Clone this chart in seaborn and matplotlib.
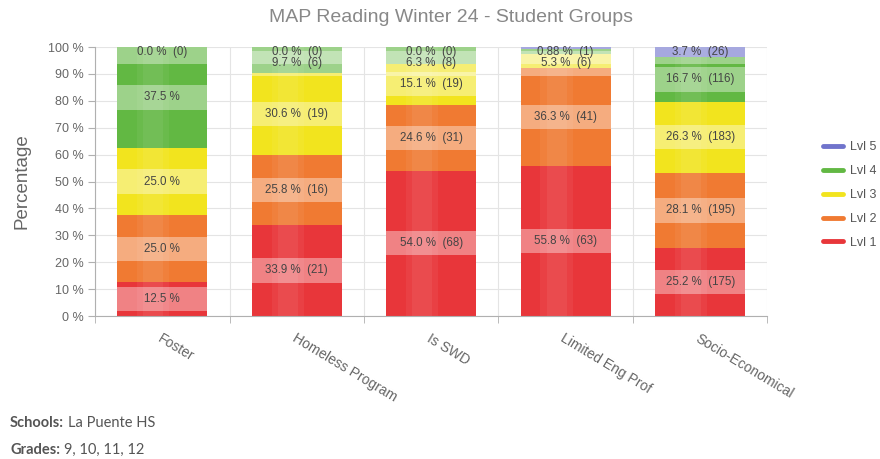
import numpy as np
import matplotlib.pyplot as plt
import seaborn as sns
from matplotlib.lines import Line2D

# Data
groups = ["Foster", "Homeless Program", "Is SWD", "Limited Eng Prof", "Socio-Economical"]
levels = ["Lvl 1", "Lvl 2", "Lvl 3", "Lvl 4", "Lvl 5"]

lvl1 = [12.5, 33.9, 54.0, 55.8, 25.2]
lvl2 = [25.0, 25.8, 24.6, 36.3, 28.1]
lvl3 = [25.0, 30.6, 15.1, 5.3, 26.3]
lvl4 = [37.5, 9.7, 6.3, 1.8, 16.7]
lvl5 = [0.0, 0.0, 0.0, 0.88, 3.7]

# label text per segment ("" = not shown)
text1 = ["12.5 %", "33.9 %  (21)", "54.0 %  (68)", "55.8 %  (63)", "25.2 %  (175)"]
text2 = ["25.0 %", "25.8 %  (16)", "24.6 %  (31)", "36.3 %  (41)", "28.1 %  (195)"]
text3 = ["25.0 %", "30.6 %  (19)", "15.1 %  (19)", "5.3 %  (6)", "26.3 %  (183)"]
text4 = ["37.5 %", "9.7 %  (6)", "6.3 %  (8)", "", "16.7 %  (116)"]
text5 = ["0.0 %  (0)", "0.0 %  (0)", "0.0 %  (0)", "0.88 %  (1)", "3.7 %  (26)"]

colors = ["#e8363a", "#f07a32", "#f2e41e", "#62b843", "#7074cc"]

values = [lvl1, lvl2, lvl3, lvl4, lvl5]
texts = [text1, text2, text3, text4, text5]

sns.set_style("white")
plt.rcParams["font.family"] = ["Liberation Sans", "DejaVu Sans"]

fig = plt.figure(figsize=(8.8, 4.59), dpi=100)
ax = fig.add_axes([0.108, 0.3115, 0.764, 0.5861])

bar_w = 0.67
cum = np.cumsum(np.array(values), axis=0)

# stacked bars: draw cumulative totals from top level down
for i in range(len(levels) - 1, -1, -1):
    sns.barplot(x=groups, y=cum[i], color=colors[i], width=bar_w,
                saturation=1, errorbar=None, ax=ax, zorder=2,
                linewidth=0, edgecolor="none")

x = np.arange(len(groups))
# soft highlight to mimic the glossy bars
for k, a in [(0.36, 0.05), (0.22, 0.06)]:
    ax.bar(x - bar_w * 0.1, cum[-1], width=bar_w * k, color="white",
           alpha=a, zorder=3, linewidth=0)

# segment labels with a light band behind, top level first so
# crowded labels near 100 % get pushed down a little
band_h = 9.0
for j in range(len(groups)):
    prev_y = None
    for i in range(len(levels) - 1, -1, -1):
        if not texts[i][j]:
            continue
        bottom = cum[i][j] - values[i][j]
        y = min(bottom + values[i][j] / 2, 98.3)
        if prev_y is not None:
            y = min(y, prev_y - 4.4)
        prev_y = y
        ax.bar(j, band_h, bottom=y - band_h / 2, width=bar_w, color="white",
               alpha=0.38, zorder=4, linewidth=0)
        ax.text(j, y, texts[i][j], ha="center", va="center", fontsize=8.3,
                color="#444444", zorder=5)

ax.set_ylim(0, 100)
ax.set_xlim(-0.5, len(groups) - 0.5)
ax.set_yticks(range(0, 101, 10))
ax.set_yticklabels([f"{v} %" for v in range(0, 101, 10)])
ax.set_xticks(x)
ax.set_xticklabels(groups, rotation=-31, ha="left", va="top",
                   rotation_mode="anchor")
ax.set_xticks(np.arange(-0.5, len(groups)), minor=True)
ax.set_xlabel("")
ax.set_ylabel("")

ax.tick_params(axis="x", which="major", length=0, pad=11, labelsize=10,
               labelcolor="#666666")
ax.tick_params(axis="x", which="minor", length=5, color="#b0b0b0", bottom=True)
ax.tick_params(axis="y", length=5, color="#b0b0b0", labelsize=9,
               labelcolor="#666666", pad=3, left=True)

ax.set_axisbelow(True)
ax.grid(axis="y", which="major", color="#e4e4e4", linewidth=0.8)
ax.grid(axis="x", which="minor", color="#e4e4e4", linewidth=0.8)
ax.grid(axis="x", which="major", visible=False)

sns.despine(ax=ax, top=True, right=True)
for s in ["left", "bottom"]:
    ax.spines[s].set_color("#b0b0b0")

fig.text(0.512, 1 - 17 / 459, "MAP Reading Winter 24 - Student Groups",
         ha="center", va="center", fontsize=14, color="#888888")
fig.text(22 / 880, 0.6046, "Percentage", rotation=90, ha="center",
         va="center", fontsize=13.5, color="#666666")

handles = [Line2D([], [], color=colors[i], lw=3.5) for i in range(4, -1, -1)]
leg = fig.legend(handles, levels[::-1], loc="center left",
                 bbox_to_anchor=(0.922, 0.575), frameon=False, fontsize=9,
                 handlelength=1.6, labelspacing=0.95, handletextpad=0.6)
for t in leg.get_texts():
    t.set_color("#555555")

# footer with bold captions
renderer = fig.canvas.get_renderer()
footer = [("Schools:", "La Puente HS", 423), ("Grades:", "9, 10, 11, 12", 450)]
for head, body, ypix in footer:
    t = fig.text(10 / 880, 1 - ypix / 459, head, fontsize=10.5, fontweight="bold",
                 color="#555555", va="center", family=["Lato", "DejaVu Sans"])
    bb = t.get_window_extent(renderer)
    fig.text((bb.x1 + 4) / 880, 1 - ypix / 459, body, fontsize=10.5,
             color="#555555", va="center", family=["Lato", "DejaVu Sans"])

fig.savefig("out.png", dpi=100)
